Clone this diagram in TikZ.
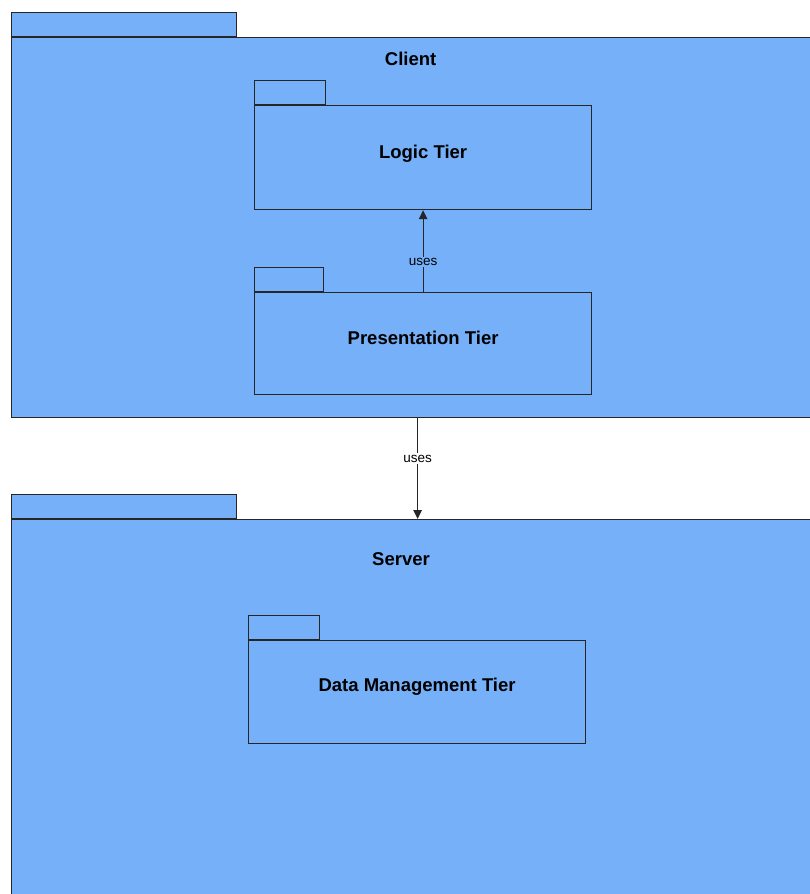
\documentclass[tikz,border=0pt]{standalone}
\usepackage{fontspec}
\setmainfont{Liberation Sans}
\usetikzlibrary{arrows.meta,positioning}
\definecolor{pkgfill}{RGB}{118,176,248}

\begin{document}
\begin{tikzpicture}[x=1pt,y=-1pt,
    font=\fontsize{18.5}{21}\selectfont\bfseries,
    pkgbody/.style={draw=black!85,fill=pkgfill,line width=1.2pt,anchor=north west,
                    inner sep=0pt},
    pkgtab/.style={draw=black!85,fill=pkgfill,line width=1.2pt,anchor=south west,
                   inner sep=0pt,minimum height=24},
    pkgname/.style={inner sep=0pt},
    uses/.style={font=\fontsize{13.5}{15}\selectfont,inner sep=1.5pt},
    arr/.style={-{Triangle[length=9pt,width=8.5pt]},line width=1.2pt,draw=black!85}]
    \useasboundingbox (0,0) rectangle (810,894);
    \clip (0,0) rectangle (810,894);
    % client package
    \node[pkgbody,minimum width=812,minimum height=380] (client) at (11,37) {};
    \node[pkgtab,minimum width=225] (clienttab) at (client.north west) {};
    \node[pkgname,below=15pt of client.north,xshift=-7pt] (clientname) {Client};
    \node[pkgbody,minimum width=337,minimum height=104] (logic) at (254,105) {};
    \node[pkgtab,minimum width=71] (logictab) at (logic.north west) {};
    \node[pkgname] (logicname) at ([yshift=4pt]logic.center) {Logic Tier};
    \node[pkgbody,minimum width=337,minimum height=102] (present) at (254,292) {};
    \node[pkgtab,minimum width=69] (presenttab) at (present.north west) {};
    \node[pkgname] (presentname) at ([yshift=6pt]present.center) {Presentation Tier};
    % server package
    \node[pkgbody,minimum width=812,minimum height=400] (server) at (11,519) {};
    \node[pkgtab,minimum width=225] (servertab) at (server.north west) {};
    \node[pkgname,below=33pt of server.north west,xshift=390pt] (servername) {Server};
    \node[pkgbody,minimum width=337,minimum height=103] (datamgmt) at (248,640) {};
    \node[pkgtab,minimum width=71] (datamgmttab) at (datamgmt.north west) {};
    \node[pkgname] (datamgmtname) at ([yshift=5pt]datamgmt.center) {Data Management Tier};
    % dependencies
    \draw[arr] (present.north) -- node[uses,fill=pkgfill,pos=0.37]{uses} (logic.south);
    \draw[arr] (client.south) -- node[uses,fill=white,pos=0.4]{uses} (server.north);
\end{tikzpicture}
\end{document}
